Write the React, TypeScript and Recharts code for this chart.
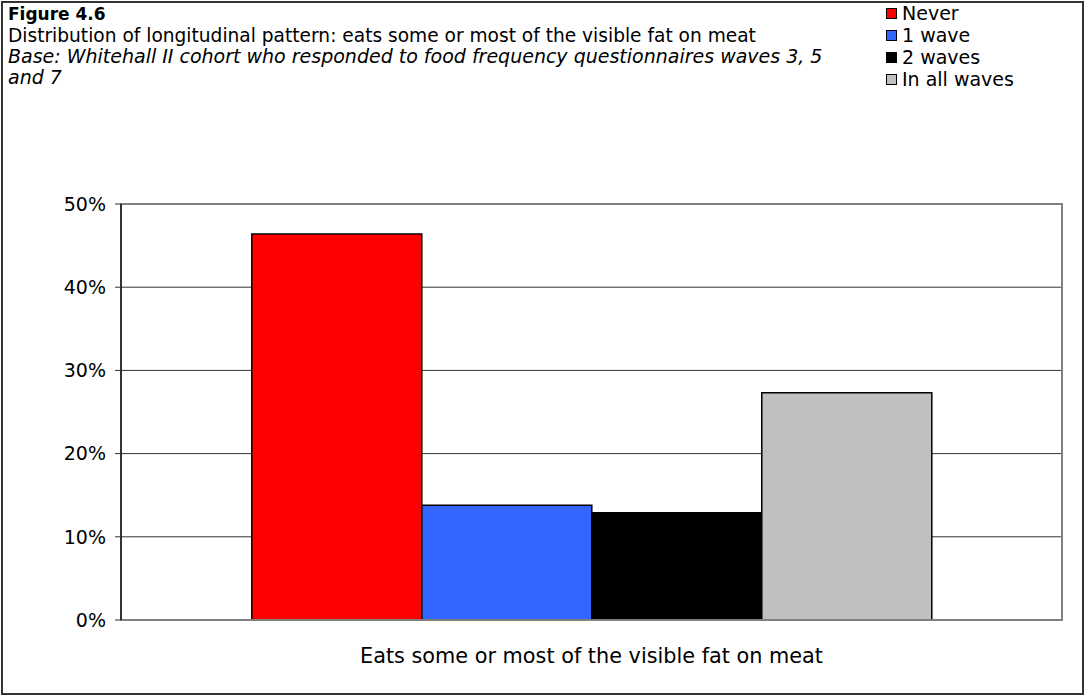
import React from 'react';
import { BarChart, Bar, XAxis, YAxis, CartesianGrid, ReferenceArea } from 'recharts';

const categories = ['Eats some or most of the visible fat on meat'];
const never = [46.4];
const oneWave = [13.8];
const twoWaves = [12.9];
const allWaves = [27.3];
const seriesNames = ['Never', '1 wave', '2 waves', 'In all waves'];
const seriesKeys = ['never', 'oneWave', 'twoWaves', 'allWaves'];
const seriesColors = ['#FF0000', '#3366FF', '#000000', '#C0C0C0'];
const yTicks = [0, 10, 20, 30, 40, 50];

const data = categories.map((c, i) => ({
  category: c,
  never: never[i],
  oneWave: oneWave[i],
  twoWaves: twoWaves[i],
  allWaves: allWaves[i],
}));

const FONT = "Tahoma, 'DejaVu Sans', sans-serif";

const LegendBox = () => (
  <div style={{ position: 'absolute', left: 886, top: 2, fontFamily: FONT, fontSize: 19, color: '#000' }}>
    {seriesNames.map((n, i) => (
      <div key={n} style={{ display: 'flex', alignItems: 'center', height: 22 }}>
        <span
          style={{
            display: 'inline-block',
            width: 9,
            height: 9,
            background: seriesColors[i],
            border: '1.5px solid #000',
            marginRight: 5,
          }}
        />
        <span>{n}</span>
      </div>
    ))}
  </div>
);

export default function App() {
  return (
    <div style={{ position: 'absolute', left: 0, top: 0, width: 1087, height: 698, background: '#fff', fontFamily: FONT }}>
      <div
        style={{
          position: 'absolute',
          left: 1,
          top: 1,
          width: 1083,
          height: 694,
          border: '2px solid #333',
          boxSizing: 'border-box',
        }}
      />
      <div style={{ position: 'absolute', left: 8, top: 4, fontSize: 18.6, lineHeight: '21px', color: '#000', whiteSpace: 'nowrap' }}>
        <div style={{ fontWeight: 'bold', fontSize: 17 }}>Figure 4.6</div>
        <div>Distribution of longitudinal pattern: eats some or most of the visible fat on meat</div>
        <div style={{ fontStyle: 'italic', fontSize: 19 }}>Base: Whitehall II cohort who responded to food frequency questionnaires waves 3, 5</div>
        <div style={{ fontStyle: 'italic', fontSize: 19 }}>and 7</div>
      </div>
      <LegendBox />
      <div style={{ position: 'absolute', left: 0, top: 0 }}>
        <BarChart
          width={1087}
          height={698}
          data={data}
          margin={{ top: 204, right: 25, bottom: 38, left: 61 }}
          barCategoryGap="13.9%"
          barGap={0}
        >
          <CartesianGrid horizontal vertical={false} stroke="#333" strokeWidth={1} />
          <ReferenceArea y1={0} y2={50} fill="none" stroke="#808080" strokeWidth={2} ifOverflow="extendDomain" />
          <XAxis
            dataKey="category"
            axisLine={{ stroke: '#808080', strokeWidth: 2 }}
            tickLine={false}
            tickSize={0}
            tickMargin={28}
            height={40}
            tick={{ fill: '#000', fontSize: 20.8, fontFamily: FONT }}
          />
          <YAxis
            domain={[0, 50]}
            ticks={yTicks}
            tickFormatter={(v: number) => `${v}%`}
            width={60}
            axisLine={{ stroke: '#333', strokeWidth: 2 }}
            tickLine={{ stroke: '#333' }}
            tickSize={6}
            tickMargin={9}
            tick={{ fill: '#000', fontSize: 19, fontFamily: FONT }}
          />
          {seriesKeys.map((k, i) => (
            <Bar
              key={k}
              dataKey={k}
              name={seriesNames[i]}
              fill={seriesColors[i]}
              stroke="#000"
              strokeWidth={1.5}
              isAnimationActive={false}
            />
          ))}
        </BarChart>
      </div>
    </div>
  );
}
